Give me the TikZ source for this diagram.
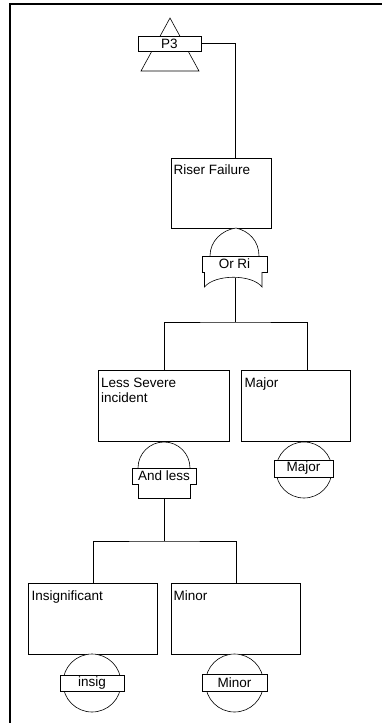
\documentclass[tikz,border=0pt]{standalone}
\usepackage{fontspec}
\setmainfont{Liberation Sans}
\begin{document}
\begin{tikzpicture}[x=1pt,y=-1pt,
  every node/.style={font=\fontsize{13.5}{15}\selectfont},
  evt/.style={draw, line width=0.8pt, fill=white, inner sep=0, anchor=north west},
  txt/.style={anchor=north west, inner sep=0, align=left},
  tag/.style={draw, line width=0.8pt, fill=white, inner sep=0, minimum height=16pt},
  gate/.style={draw, line width=0.6pt, fill=white},
  wire/.style={draw, line width=0.8pt},
  frame/.style={line width=2pt}
]
\useasboundingbox (0,0) rectangle (382,723);

% page frame
\draw[frame] (10,723) -- (10,4.2) -- (382,4.2);

% event boxes
\node[evt, minimum width=100pt, minimum height=70pt] (rf)  at (171,158) {};
\node[evt, minimum width=131pt, minimum height=71pt] (ls)  at (98,370)  {};
\node[evt, minimum width=109pt, minimum height=71pt] (mj)  at (241,370) {};
\node[evt, minimum width=129pt, minimum height=71pt] (ins) at (28,583)  {};
\node[evt, minimum width=129pt, minimum height=71pt] (mn)  at (171,583) {};

\node[txt] (rft)  at (173.5,165) {Riser Failure};
\node[txt] (lst)  at (101,377.5) {Less Severe\\incident};
\node[txt] (mjt)  at (244.5,377.5) {Major};
\node[txt] (inst) at (31.5,590.5) {Insignificant};
\node[txt] (mnt)  at (173.5,590.5) {Minor};

% transfer symbol
\draw[gate] (170,18) -- (141,71) -- (199,71) -- cycle;
\node[tag, minimum width=63pt, minimum height=15pt] (p3) at (169.5,43.5) {P3};

% OR gate under Riser Failure
\draw[gate] (210,256) .. controls (210,241) and (222,230) .. (236,228)
  .. controls (249,231) and (259,241) .. (259,256);
\node[tag, minimum width=65pt] (orri) at (234.5,264) {Or Ri};
\draw[gate] (204.5,272) -- (204.5,287) .. controls (215,274) and (252,274) .. (262,287) -- (262,272);
\coordinate (orout) at (235,278);

% AND gate under Less Severe incident
\draw[gate] (138,468) arc[start angle=180, end angle=360, radius=26];
\node[tag, minimum width=64pt] (andl) at (164,476) {And less};
\draw[gate] (138,484) -- (138,498) -- (190,498) -- (190,484);
\coordinate (andout) at (164,498);

% basic events
\draw[gate] (304,470) circle[radius=28];
\node[tag, minimum width=59pt, minimum height=17pt] (mjb) at (303.5,468.5) {Major};
\draw[gate] (92,683) circle[radius=29];
\node[tag, minimum width=64pt] (insb) at (92,683.5) {insig};
\draw[gate] (234.5,683) circle[radius=29];
\node[tag, minimum width=65pt, minimum height=17pt] (mnb) at (234.5,683) {Minor};

% connectors
\coordinate (rfin) at (235,158);
\coordinate (mjin) at (307,370);
\coordinate (bar1) at (235,322);
\coordinate (bar2) at (164,541);
\draw[wire] (p3.east) -| (rfin);
\draw[wire] (orout) -- (bar1);
\draw[wire] (ls.north) |- (bar1) -| (mjin);
\draw[wire] (andout) -- (bar2);
\draw[wire] (ins.north) |- (bar2) -| (mn.north);
\end{tikzpicture}
\end{document}
